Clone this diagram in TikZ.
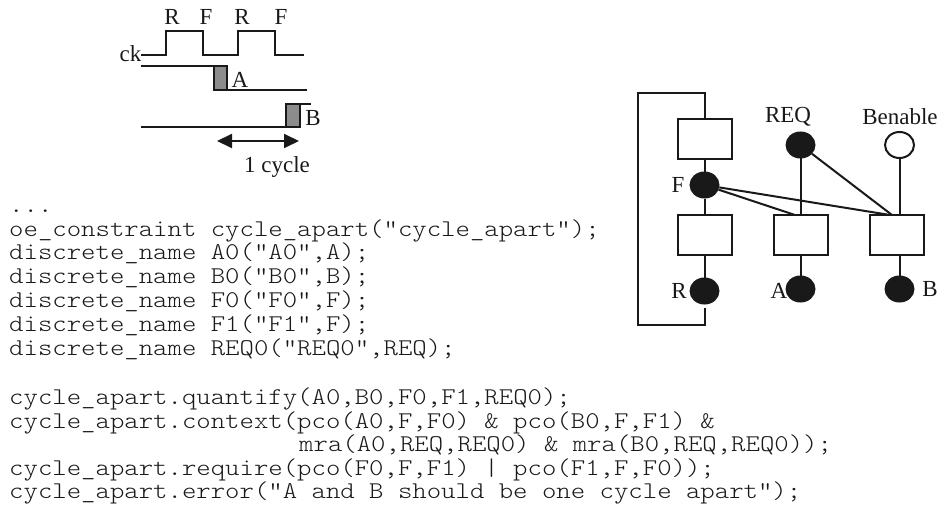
\documentclass[tikz,border=0pt]{standalone}
\usepackage{fontspec}
\setmainfont{Liberation Serif}
\setmonofont[FakeStretch=1.143]{Latin Modern Mono Light}
\usetikzlibrary{shapes.geometric,arrows.meta}
\tikzset{
  x=1pt,y=-1pt,
  wire/.style={draw=black!90,line width=2pt,line join=miter},
  box/.style={draw=black!90,line width=2pt,fill=white,minimum width=54pt,minimum height=40pt,inner sep=0pt},
  dot/.style={draw=black!90,line width=1pt,fill=black!90,ellipse,minimum width=29pt,minimum height=26pt,inner sep=0pt},
  wdot/.style={dot,fill=white,line width=2pt},
  pulse/.style={draw=black!90,line width=2pt,fill=black!45},
  lab/.style={font=\fontsize{23}{23}\selectfont,text=black!90,inner sep=0pt},
  code/.style={font=\ttfamily\fontsize{24}{24}\selectfont,text=black!90,inner sep=0pt,anchor=base west},
}
\begin{document}
\begin{tikzpicture}
\useasboundingbox (0,0) rectangle (941,505);
% timing
\draw[wire] (141,55) -- (166,55) -- (166,31) -- (203,31) -- (203,55) -- (238,55) -- (238,31) -- (275,31) -- (275,55) -- (304,55);
\draw[wire] (141,66.5) -- (214,66.5);
\draw[pulse] (214,66.5) rectangle (227,90);
\draw[wire] (227,90) -- (307,90);
\draw[wire] (141,127) -- (286,127);
\draw[pulse] (286,104) rectangle (299.5,127);
\draw[wire] (299.5,104) -- (311,104);
\coordinate (c1l) at (217,141);
\coordinate (c1r) at (299,141);
\draw[wire,{Triangle[length=15pt,width=14pt]}-{Triangle[length=15pt,width=14pt]}] (c1l) -- (c1r);
\node[lab] (r1) at (172,17) {R};
\node[lab] (f1) at (206,17) {F};
\node[lab] (r2) at (242,17) {R};
\node[lab] (f2) at (281,17) {F};
\node[lab] (ck) at (130.5,54) {ck};
\node[lab] (la) at (240,80) {A};
\node[lab] (lb) at (313,118) {B};
\node[lab] (cyc) at (277,167) {1 cycle};
% graph
\node[box] (b1) at (704.5,139) {};
\node[box] (b2) at (704.5,235) {};
\node[box] (b3) at (800.5,235) {};
\node[box] (b4) at (896.5,235) {};
\node[dot] (F) at (704.5,185) {};
\node[dot] (R) at (704.5,291) {};
\node[dot] (A) at (800.5,289) {};
\node[dot] (B) at (899.5,289) {};
\node[dot] (REQ) at (800.5,145) {};
\node[wdot] (BE) at (899.5,145) {};
\coordinate (lo) at (704.5,308);
\coordinate (lb4t) at (899.5,215);
\coordinate (lb4b) at (899.5,255);
\draw[wire] (lo) -- (704.5,325) -- (637.5,325) -- (637.5,93) -- (704.5,93) -- (b1.north);
\draw[wire] (b1.south) -- (F);
\draw[wire] (F) -- (b2.north);
\draw[wire] (b2.south) -- (R);
\draw[wire] (REQ) -- (b3.north);
\draw[wire] (b3.south) -- (A);
\draw[wire] (BE) -- (lb4t);
\draw[wire] (lb4b) -- (B);
\coordinate (t3) at (795,215);
\coordinate (t4) at (890,215);
\coordinate (t5) at (892,215);
\draw[wire] (F) -- (t3);
\draw[wire] (F) -- (t4);
\draw[wire] (REQ) -- (t5);
\node[lab] (lREQ) at (788,117) {REQ};
\node[lab] (lBE) at (900,117) {Benable};
\node[lab] (lF) at (678,185) {F};
\node[lab] (lR) at (679,291) {R};
\node[lab] (lA) at (779,291) {A};
\node[lab] (lB) at (930,289) {B};
% code
\node[code] (c0) at (9,212) {...};
\node[code] (c1) at (9,236) {oe\_constraint cycle\_apart("cycle\_apart");};
\node[code] (c2) at (9,259.8) {discrete\_name A0("A0",A);};
\node[code] (c3) at (9,283.6) {discrete\_name B0("B0",B);};
\node[code] (c4) at (9,307.4) {discrete\_name F0("F0",F);};
\node[code] (c5) at (9,331.2) {discrete\_name F1("F1",F);};
\node[code] (c6) at (9,355) {discrete\_name REQ0("REQ0",REQ);};
\node[code] (c7) at (9,404) {cycle\_apart.quantify(A0,B0,F0,F1,REQ0);};
\node[code] (c8) at (9,428) {cycle\_apart.context(pco(A0,F,F0) \& pco(B0,F,F1) \&};
\node[code] (c9) at (299,451.5) {mra(A0,REQ,REQ0) \& mra(B0,REQ,REQ0));};
\node[code] (c10) at (9,475) {cycle\_apart.require(pco(F0,F,F1) | pco(F1,F,F0));};
\node[code] (c11) at (9,498) {cycle\_apart.error("A and B should be one cycle apart");};
\end{tikzpicture}
\end{document}
